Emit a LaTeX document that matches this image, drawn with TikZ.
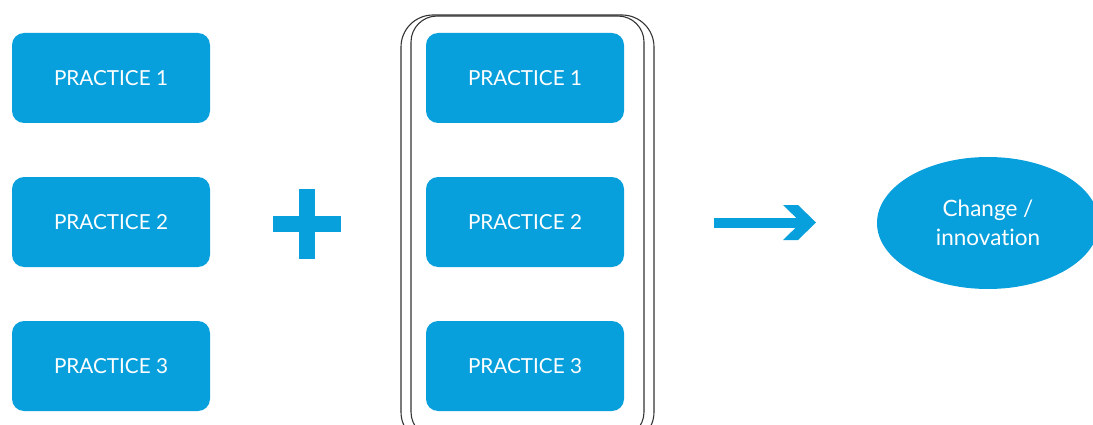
\documentclass[tikz,border=0pt]{standalone}
\usepackage{fontspec}
\setmainfont{Lato}[Ligatures=NoCommon]
\usetikzlibrary{shapes.geometric}
\definecolor{pblue}{HTML}{08A0DC}
\begin{document}
\begin{tikzpicture}[x=1pt,y=1pt,
  practice/.style={fill=pblue, rounded corners=12pt, minimum width=198pt, minimum height=90pt,
    text=white, font=\fontsize{20.7}{24}\selectfont, inner sep=0pt},
  frameline/.style={draw=black!80, line width=1.1pt},
  symb/.style={fill=pblue, draw=none}]
\useasboundingbox (0,0) rectangle (1093,424);
\clip (0,0) rectangle (1093,424);
% left column
\node[practice] (l1) at (111,346) {PRACTICE 1};
\node[practice] (l2) at (111,202) {PRACTICE 2};
\node[practice] (l3) at (111,58) {PRACTICE 3};
% plus
\fill[symb] (273,192) rectangle (341,208);
\fill[symb] (299,165) rectangle (315,235);
% frames
\draw[frameline, rounded corners=32pt] (401,409) rectangle (654,-20);
\draw[frameline, rounded corners=26pt] (411,408) rectangle (644,-14);
% middle column
\node[practice] (m1) at (525,346) {PRACTICE 1};
\node[practice] (m2) at (525,202) {PRACTICE 2};
\node[practice] (m3) at (525,58) {PRACTICE 3};
% arrow
\fill[symb] (714,196.5) rectangle (802,206.5);
\fill[symb] (783,219) -- (798,219) -- (816,201.5) -- (798,184) -- (783,184) -- (801,201.5) -- cycle;
% result
\node[ellipse, fill=pblue, minimum width=222pt, minimum height=132pt, text=white, align=center,
  font=\fontsize{22.5}{29}\selectfont, inner sep=0pt] (chg) at (988,201) {Change /\\innovation};
\end{tikzpicture}
\end{document}
